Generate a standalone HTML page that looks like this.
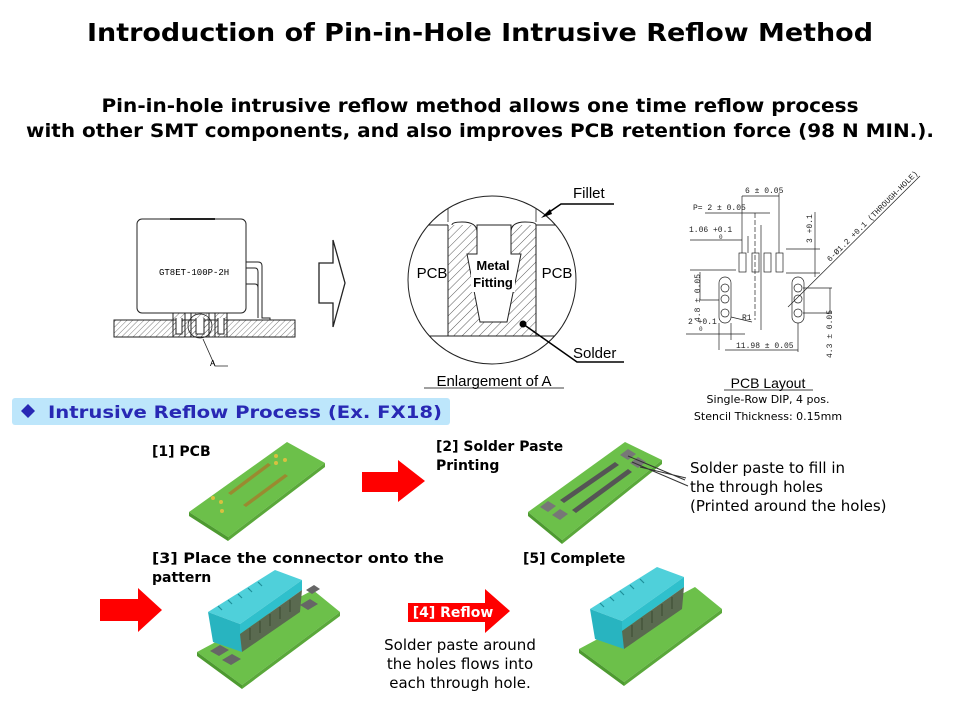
<!DOCTYPE html>
<html><head><meta charset="utf-8"><style>
html,body{margin:0;padding:0;background:#fff;width:960px;height:720px;overflow:hidden}
svg{display:block}
</style></head><body>
<svg width="960" height="720" viewBox="0 0 960 720" xmlns="http://www.w3.org/2000/svg" font-family="'DejaVu Sans','Liberation Sans',sans-serif">
<defs>
<pattern id="h" width="6" height="6" patternUnits="userSpaceOnUse" patternTransform="rotate(45)"><line x1="0" y1="0" x2="0" y2="6" stroke="#333" stroke-width="0.8"/></pattern>
<pattern id="h2" width="4" height="4" patternUnits="userSpaceOnUse" patternTransform="rotate(45)"><line x1="0" y1="0" x2="0" y2="4" stroke="#444" stroke-width="0.7"/></pattern>
<clipPath id="cc"><circle cx="492" cy="280" r="84"/></clipPath>
<g id="conn">
<path d="M208 612 L275 570 L302 580 L240 624 Z" fill="#4fd0da"/>
<path d="M208 612 L240 624 L242 652 L213 642 Z" fill="#28b4c0"/>
<path d="M240 624 L302 580 L302 590 L240 634 Z" fill="#2fc0cc"/>
<path d="M240 634 L302 590 L300 612 L242 652 Z" fill="#5a6a50"/>
<path d="M218 606 L222 610 M228 600 L232 604 M238 594 L242 598 M248 588 L252 592 M258 582 L262 586" stroke="#1e8f9a" stroke-width="1.2"/>
<path d="M250 640 V628 M260 633 V621 M270 626 V614 M280 619 V607 M290 612 V600" stroke="#3a4a30" stroke-width="1"/>
</g>
</defs>
<text x="480" y="41" text-anchor="middle" font-size="25" font-weight="bold" textLength="786" lengthAdjust="spacingAndGlyphs">Introduction of Pin-in-Hole Intrusive Reflow Method</text>
<text x="480" y="112" text-anchor="middle" font-size="19" font-weight="bold" textLength="757" lengthAdjust="spacingAndGlyphs">Pin-in-hole intrusive reflow method allows one time reflow process</text>
<text x="480" y="137" text-anchor="middle" font-size="19" font-weight="bold" textLength="908" lengthAdjust="spacingAndGlyphs">with other SMT components, and also improves PCB retention force (98 N MIN.).</text>

<rect x="114" y="320" width="181" height="17" fill="url(#h2)" stroke="#222" stroke-width="1"/>
<rect x="137" y="219" width="109" height="94" rx="5" fill="#fff" stroke="#222" stroke-width="1"/>
<line x1="170" y1="219" x2="215" y2="219" stroke="#222" stroke-width="2"/>
<text x="159" y="275" font-size="9" font-family="'Liberation Mono',monospace">GT8ET-100P-2H</text>
<path d="M246 262 H258 Q262 262 262 266 V318 H270 V320 M246 268 H255 Q258 268 258 272 V318" fill="none" stroke="#222"/>
<path d="M246 284 H255 Q258 284 258 288" fill="none" stroke="#222"/>
<g fill="#fff" stroke="#222">
<rect x="173" y="313" width="12" height="24" fill="url(#h2)"/><rect x="191" y="313" width="18" height="24" fill="url(#h2)"/><rect x="215" y="313" width="12" height="24" fill="url(#h2)"/>
<path d="M176 318 V334 H182 V318" /><path d="M196 318 V334 H204 V318"/><path d="M218 318 V334 H224 V318"/>
</g>
<circle cx="200" cy="326" r="12" fill="none" stroke="#222" stroke-width="0.8"/>
<path d="M203 339 L215 366 H228" fill="none" stroke="#222" stroke-width="0.8"/>
<text x="210" y="366" font-size="9" font-family="'Liberation Mono',monospace">A</text>

<path d="M319 263 H333 V240 L345 283 L333 327 V303 H319 Z" fill="#fff" stroke="#222" stroke-width="1.3"/>

<g clip-path="url(#cc)">
<rect x="448" y="225" width="88" height="111" fill="url(#h)"/>
<path d="M477 225 V254 H467 L480 322 H507 L521 254 H511 V225 Z" fill="#fff" stroke="#222"/>
<path d="M452 225 Q452 222 462 222 Q477 222 477 232" fill="none" stroke="#222"/>
<path d="M511 232 Q511 222 525 222 Q536 222 536 225" fill="none" stroke="#222"/>
<line x1="400" y1="225" x2="448" y2="225" stroke="#222"/>
<line x1="536" y1="225" x2="590" y2="225" stroke="#222"/>
<line x1="448" y1="225" x2="448" y2="336" stroke="#222"/>
<line x1="536" y1="225" x2="536" y2="336" stroke="#222"/>
<line x1="400" y1="336" x2="590" y2="336" stroke="#222"/>
<path d="M448 195 V222 M536 195 V222" stroke="#222" stroke-width="0.8" fill="none"/>
</g>
<circle cx="492" cy="280" r="84" fill="none" stroke="#222" stroke-width="1"/>
<text x="432" y="278" text-anchor="middle" font-size="15" font-family="'Liberation Sans',sans-serif">PCB</text>
<text x="557" y="278" text-anchor="middle" font-size="15" font-family="'Liberation Sans',sans-serif">PCB</text>
<rect x="471" y="256" width="44" height="36" fill="#fff"/>
<text x="493" y="270" text-anchor="middle" font-size="13" font-weight="bold" font-family="'Liberation Sans',sans-serif">Metal</text>
<text x="493" y="287" text-anchor="middle" font-size="13" font-weight="bold" font-family="'Liberation Sans',sans-serif">Fitting</text>
<text x="573" y="198" font-size="15" font-family="'Liberation Sans',sans-serif">Fillet</text>
<path d="M614 204 H561 L545 215" fill="none" stroke="#000" stroke-width="1.5"/>
<path d="M541 218 L550 209 L552 214 Z" fill="#000"/>
<text x="573" y="358" font-size="15" font-family="'Liberation Sans',sans-serif">Solder</text>
<path d="M523 324 L577 362 H624" fill="none" stroke="#000" stroke-width="1.5"/>
<circle cx="523" cy="324" r="3.5" fill="#000"/>
<text x="494" y="386" text-anchor="middle" font-size="15" font-family="'Liberation Sans',sans-serif">Enlargement of A</text>
<line x1="424" y1="388" x2="564" y2="388" stroke="#000" stroke-width="0.8"/>

<g stroke="#222" stroke-width="0.7" fill="none" font-family="'Liberation Mono',monospace" font-size="9">
<rect x="739" y="253" width="7" height="19"/><rect x="752" y="253" width="7" height="19"/><rect x="764" y="253" width="7" height="19"/><rect x="776" y="253" width="7" height="19"/>
<rect x="719" y="277" width="12" height="46" rx="6"/><rect x="792" y="277" width="12" height="46" rx="6"/>
<circle cx="725" cy="288" r="4"/><circle cx="725" cy="299" r="4"/><circle cx="725" cy="313" r="4"/>
<circle cx="798" cy="288" r="4"/><circle cx="798" cy="299" r="4"/><circle cx="798" cy="313" r="4"/>
<line x1="742" y1="196" x2="742" y2="253"/><line x1="779" y1="193" x2="779" y2="253"/>
<line x1="742" y1="196" x2="779" y2="196"/>
<line x1="705" y1="213" x2="742" y2="213"/><line x1="742" y1="213" x2="770" y2="213"/>
<line x1="690" y1="240" x2="742" y2="240"/><line x1="748" y1="236" x2="748" y2="253"/>
<line x1="755" y1="213" x2="755" y2="320" stroke-dasharray="5,2"/><line x1="761" y1="225" x2="761" y2="330"/>
<line x1="786" y1="249" x2="820" y2="249"/><line x1="786" y1="273" x2="820" y2="273"/><line x1="815" y1="212" x2="815" y2="277"/>
<line x1="690" y1="270" x2="736" y2="270"/><line x1="700" y1="272" x2="700" y2="300"/><line x1="700" y1="300" x2="719" y2="300"/>
<line x1="686" y1="334" x2="745" y2="334"/><line x1="719" y1="323" x2="719" y2="350"/><line x1="731" y1="323" x2="731" y2="340"/>
<line x1="725" y1="350" x2="798" y2="350"/><line x1="798" y1="323" x2="798" y2="352"/>
<line x1="731" y1="317" x2="752" y2="322"/>
<line x1="788" y1="307" x2="920" y2="176"/>
<line x1="803" y1="288" x2="832" y2="288"/><line x1="803" y1="313" x2="832" y2="313"/><line x1="830" y1="288" x2="830" y2="313"/>
<text x="693" y="210" fill="#222" stroke="none" font-size="8">P= 2 ± 0.05</text>
<text x="745" y="193" fill="#222" stroke="none" font-size="8">6 ± 0.05</text>
<text x="689" y="232" fill="#222" stroke="none" font-size="8">1.06 +0.1</text>
<text x="719" y="239" fill="#222" stroke="none" font-size="6">0</text>
<text x="688" y="324" fill="#222" stroke="none" font-size="8">2 +0.1</text>
<text x="699" y="331" fill="#222" stroke="none" font-size="6">0</text>
<text x="742" y="320" fill="#222" stroke="none" font-size="8">R1</text>
<text x="736" y="348" fill="#222" stroke="none" font-size="8">11.98 ± 0.05</text>
<text transform="translate(700,322) rotate(-90)" fill="#222" stroke="none" font-size="8">4.8 ± 0.05</text>
<text transform="translate(812,243) rotate(-90)" fill="#222" stroke="none" font-size="8">3 +0.1</text>
<text transform="translate(832,358) rotate(-90)" fill="#222" stroke="none" font-size="8">4.3 ± 0.05</text>
<text transform="translate(830,262) rotate(-45)" fill="#222" stroke="none" font-size="8">6-Ø1.2 +0.1 (THROUGH-HOLE)</text>
</g>
<text x="768" y="388" text-anchor="middle" font-size="14" font-family="'Liberation Sans',sans-serif">PCB Layout</text>
<line x1="724" y1="390" x2="813" y2="390" stroke="#000" stroke-width="0.8"/>
<text x="768" y="403" text-anchor="middle" font-size="11">Single-Row DIP, 4 pos.</text>
<text x="768" y="420" text-anchor="middle" font-size="11">Stencil Thickness: 0.15mm</text>

<rect x="12" y="398" width="438" height="27" rx="3" fill="#bde6fb"/>
<path d="M28 404 L35 411 L28 418 L21 411 Z" fill="#2828b4"/>
<text x="48" y="418" font-size="17" font-weight="bold" fill="#2828b4" textLength="394" lengthAdjust="spacingAndGlyphs">Intrusive Reflow Process  (Ex. FX18)</text>

<g font-size="14" font-weight="bold">
<text x="152" y="456">[1] PCB</text>
<text x="436" y="451">[2] Solder Paste</text>
<text x="436" y="470">Printing</text>
<text x="152" y="563" textLength="292" lengthAdjust="spacingAndGlyphs">[3] Place the connector onto the</text>
<text x="152" y="582">pattern</text>
<text x="523" y="563">[5] Complete</text>
</g>
<g font-size="15">
<text x="690" y="473">Solder paste to fill in</text>
<text x="690" y="492">the through holes</text>
<text x="690" y="511">(Printed around the holes)</text>
<text x="460" y="650" text-anchor="middle">Solder paste around</text>
<text x="460" y="669" text-anchor="middle">the holes flows into</text>
<text x="460" y="688" text-anchor="middle">each through hole.</text>
</g>

<path d="M362 472 H398 V460 L425 481 L398 502 V492 H362 Z" fill="#f00"/>
<path d="M100 599 H138 V588 L162 610 L138 632 V621 H100 Z" fill="#f00"/>
<path d="M408 603 H485 V589 L510 611 L485 633 V622 H408 Z" fill="#f00"/>
<text x="453" y="617" text-anchor="middle" font-size="14" font-weight="bold" fill="#fff">[4] Reflow</text>

<g>
<path d="M189 512 L287 442 L325 463 L228 537 Z" fill="#6cc04a"/>
<path d="M189 512 L228 537 L228 541 L189 516 Z" fill="#4d9a30"/>
<path d="M228 537 L325 463 L325 467 L228 541 Z" fill="#5aa83a"/>
<path d="M228 493 L268 463 L271 465 L231 495 Z M243 505 L285 474 L288 476 L246 507 Z" fill="#9a8a30"/>
<g fill="#d8c040"><circle cx="213" cy="498" r="2"/><circle cx="221" cy="502" r="2"/><circle cx="222" cy="511" r="2"/><circle cx="276" cy="456" r="2"/><circle cx="285" cy="460" r="2"/><circle cx="276" cy="463" r="2"/></g>

<path d="M528 512 L625 442 L662 460 L562 540 Z" fill="#6cc04a"/>
<path d="M528 512 L562 540 L562 544 L528 516 Z" fill="#4d9a30"/>
<path d="M562 540 L662 460 L662 464 L562 544 Z" fill="#5aa83a"/>
<path d="M560 500 L615 462 L619 465 L564 503 Z M572 510 L628 469 L632 472 L576 513 Z" fill="#555"/>
<path d="M540 507 L548 501 L556 506 L548 512 Z M552 515 L560 509 L568 514 L560 520 Z M620 455 L628 449 L636 454 L628 460 Z M630 463 L638 457 L646 462 L638 468 Z" fill="#777"/>
<path d="M628 456 L685 480 M632 462 L688 486 M640 467 L686 478" stroke="#333" stroke-width="1" fill="none"/>

<path d="M197 652 L313 590 L340 612 L242 685 Z" fill="#6cc04a"/>
<path d="M197 652 L242 685 L242 689 L197 656 Z" fill="#4d9a30"/>
<path d="M242 685 L340 612 L340 616 L242 689 Z" fill="#5aa83a"/>
<path d="M210 651 L220 645 L229 650 L219 656 Z M222 660 L232 654 L241 659 L231 665 Z M300 605 L310 599 L318 604 L308 610 Z M306 590 L314 585 L320 589 L312 594 Z" fill="#666"/>
<use href="#conn"/>

<path d="M579 649 L695 587 L722 609 L624 682 Z" fill="#6cc04a"/>
<path d="M579 649 L624 682 L624 686 L579 653 Z" fill="#4d9a30"/>
<path d="M624 682 L722 609 L722 613 L624 686 Z" fill="#5aa83a"/>
<use href="#conn" transform="translate(382,-3)"/>
</g>
</svg>
</body></html>
